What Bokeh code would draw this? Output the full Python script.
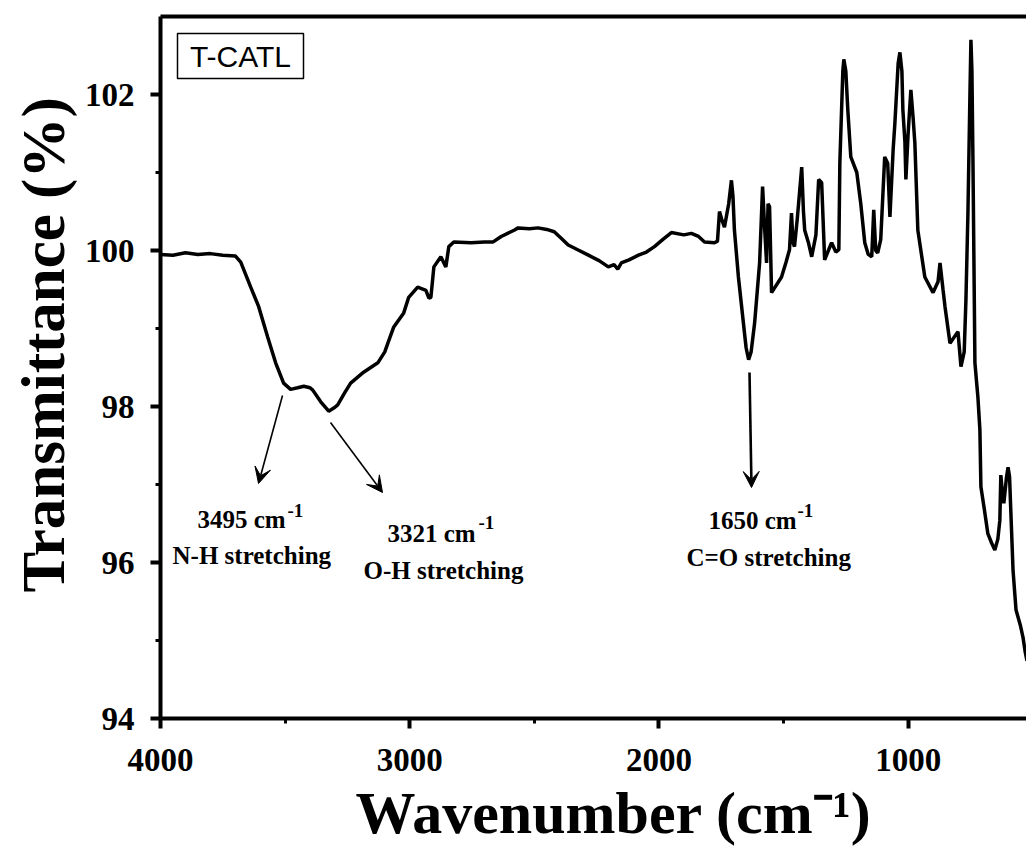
import math
from bokeh.plotting import figure
from bokeh.models import (Range1d, FixedTicker, LinearAxis, Label, Arrow, VeeHead,
                          BoxAnnotation, Title)
from bokeh.embed import file_html
from bokeh.resources import INLINE

# ---------------- data ----------------
wavenumber = [
    4000, 3950, 3900, 3850, 3800, 3750, 3700, 3678, 3638, 3606, 3570, 3538, 3506,
    3478, 3450, 3425, 3400, 3389, 3357, 3325, 3300, 3289, 3260, 3237, 3185, 3128,
    3100, 3088, 3064, 3024, 3004, 2968, 2935, 2923, 2915, 2903, 2875, 2855, 2843,
    2823, 2754, 2700, 2665, 2633, 2581, 2565, 2520, 2485, 2450, 2420, 2390, 2364,
    2320, 2283, 2240, 2203, 2180, 2165, 2151, 2120, 2082, 2050, 2018, 1985, 1950,
    1900, 1870, 1841, 1817, 1777, 1765, 1757, 1748, 1737, 1720, 1709, 1703, 1697,
    1681, 1661, 1650, 1640, 1630, 1616, 1596, 1584, 1576, 1568, 1562, 1556, 1548,
    1530, 1508, 1490, 1476, 1468, 1462, 1456, 1445, 1427, 1420, 1415, 1400, 1387,
    1370, 1359, 1347, 1335, 1320, 1307, 1290, 1278, 1274, 1262, 1258, 1250, 1242,
    1230, 1206, 1190, 1174, 1160, 1146, 1138, 1130, 1122, 1110, 1094, 1082, 1073,
    1060, 1053, 1040, 1033, 1025, 1021, 1013, 1009, 1000, 989, 980, 973, 961, 933,
    900, 880, 872, 860, 852, 832, 800, 788, 775, 768, 760, 752, 748, 744, 740, 732,
    720, 712, 708, 695, 680, 665, 652, 640, 632, 628, 622, 616, 605, 599, 593, 587,
    579, 567, 550, 539, 530, 523,
]
transmittance = [
    99.95, 99.94, 99.97, 99.95, 99.96, 99.94, 99.93, 99.85, 99.53, 99.28, 98.89,
    98.56, 98.30, 98.22, 98.24, 98.26, 98.24, 98.21, 98.06, 97.94, 97.99, 98.02,
    98.18, 98.30, 98.44, 98.56, 98.70, 98.81, 99.02, 99.20, 99.40, 99.53, 99.49,
    99.39, 99.40, 99.79, 99.92, 99.79, 100.05, 100.11, 100.10, 100.11, 100.11,
    100.18, 100.26, 100.29, 100.28, 100.29, 100.27, 100.24, 100.15, 100.07, 100.00,
    99.94, 99.87, 99.79, 99.82, 99.76, 99.84, 99.88, 99.94, 99.98, 100.05, 100.14,
    100.23, 100.20, 100.22, 100.18, 100.11, 100.10, 100.12, 100.50, 100.40, 100.30,
    100.60, 100.90, 100.70, 100.26, 99.66, 99.07, 98.75, 98.60, 98.70, 99.07, 99.84,
    100.82, 100.30, 99.84, 100.60, 100.56, 99.46, 99.55, 99.66, 99.85, 100.01,
    100.48, 100.10, 100.05, 100.40, 101.07, 100.50, 100.26, 100.10, 99.92, 100.20,
    100.91, 100.87, 99.88, 100.00, 100.10, 99.98, 100.01, 101.12, 102.30, 102.45,
    102.30, 101.80, 101.20, 101.00, 100.60, 100.10, 99.95, 99.92, 100.52, 100.00,
    99.97, 100.14, 101.20, 101.12, 100.43, 101.30, 101.64, 102.40, 102.54, 102.30,
    101.80, 101.40, 100.91, 101.50, 102.06, 101.70, 101.38, 100.26, 99.66, 99.46,
    99.60, 99.84, 99.50, 99.28, 98.81, 98.96, 98.51, 98.70, 99.37, 100.48, 102.00,
    102.70, 102.30, 101.20, 98.56, 98.12, 97.70, 96.97, 96.70, 96.37, 96.25, 96.16,
    96.30, 96.54, 97.12, 96.90, 96.76, 97.10, 97.22, 97.10, 96.58, 95.90, 95.39,
    95.20, 95.04, 94.85, 94.74,
]

x_ticks = [4000, 3000, 2000, 1000]
x_minor_ticks = [3500, 2500, 1500, 500]
y_ticks = [94, 96, 98, 100, 102]
y_minor_ticks = [95, 97, 99, 101]

sample_name = "T-CATL"
y_title = "Transmittance (%)"
x_title = "Wavenumber (cm\u207b\u00b9)"
peaks = [
    {"wn": "3495", "mode": "N-H stretching"},
    {"wn": "3321", "mode": "O-H stretching"},
    {"wn": "1650", "mode": "C=O stretching"},
]

# ---------------- layout ----------------
W, H = 1026, 852
L, R, T, B = 160, 0, 16, 134
X0, X1 = 4000, 525
Y0, Y1 = 94, 103
FW, FH = W - L - R, H - T - B


def dx(px):
    return X0 + (px - L) * (X1 - X0) / FW


def dy(py):
    return Y1 - (py - T) * (Y1 - Y0) / FH


SERIF = "Liberation Serif"

p = figure(width=W, height=H, x_range=Range1d(X0, X1), y_range=Range1d(Y0, Y1),
           output_backend="svg", toolbar_location=None,
           min_border_left=L, min_border_right=R, min_border_top=T,
           min_border_bottom=B)
p.grid.visible = False
p.outline_line_color = None
p.background_fill_color = "white"
p.border_fill_color = "white"

p.line(wavenumber, transmittance, line_color="black", line_width=3.5)

for ax in (p.xaxis[0], p.yaxis[0]):
    ax.axis_line_width = 4
    ax.axis_line_color = "black"
    ax.major_tick_line_width = 4
    ax.minor_tick_line_width = 3
    ax.major_tick_out = 10
    ax.major_tick_in = 0
    ax.minor_tick_out = 5
    ax.minor_tick_in = 0
    ax.major_label_text_font = SERIF
    ax.major_label_text_font_style = "bold"
    ax.major_label_text_font_size = "33px"
    ax.major_label_text_color = "black"

p.xaxis[0].major_label_standoff = 20
p.yaxis[0].major_label_standoff = 16
p.xaxis[0].ticker = FixedTicker(ticks=x_ticks, minor_ticks=x_minor_ticks)
p.yaxis[0].ticker = FixedTicker(ticks=y_ticks, minor_ticks=y_minor_ticks)

top = LinearAxis(ticker=FixedTicker(ticks=[]), axis_line_width=4,
                 axis_line_color="black", major_tick_out=0, major_tick_in=0,
                 minor_tick_out=0, minor_tick_in=0,
                 major_label_text_font_size="0px")
p.add_layout(top, "above")

# ---------------- axis titles ----------------
p.add_layout(Title(text=y_title, align="left", offset=126, standoff=9,
                   text_font=SERIF, text_font_style="bold",
                   text_font_size="61px", text_color="black"), "left")
p.add_layout(Title(text=x_title, align="left", offset=195, standoff=8,
                   text_font=SERIF, text_font_style="bold",
                   text_font_size="60px", text_color="black"), "below")


def lab(px, py, text, size, align="left"):
    p.add_layout(Label(x=dx(px), y=dy(py), text=text, text_align=align,
                       text_baseline="alphabetic", text_font=SERIF,
                       text_font_style="bold", text_font_size=size,
                       text_color="black"))


# ---------------- sample box ----------------
p.add_layout(BoxAnnotation(left=dx(177), right=dx(303), top=dy(33), bottom=dy(78),
                           fill_color=None, fill_alpha=0, line_color="black",
                           line_alpha=1.0, line_width=1.5))
p.add_layout(Label(x=dx(240), y=dy(56), text=sample_name, text_align="center",
                   text_baseline="middle", text_font="Liberation Sans",
                   text_font_size="30px", text_color="black"))

# ---------------- peak annotations ----------------
pos = [
    (197, 519, 287, 510, 172, 555),
    (387, 533, 478, 522, 363, 570),
    (708, 520, 797, 510, 686, 557),
]
for pk, (cx, cy, sx, sy, mx, my) in zip(peaks, pos):
    lab(cx, cy, pk["wn"] + " cm", "25px")
    lab(sx, sy, "-1", "19px")
    lab(mx, my, pk["mode"], "25px")

arrows = [
    ((282, 395), (258, 483), 1.6),
    ((330, 422), (382, 492), 1.6),
    ((749, 372), (751, 487), 2.6),
]
for (a, b, lw) in arrows:
    p.add_layout(Arrow(x_start=dx(a[0]), y_start=dy(a[1]), x_end=dx(b[0]),
                       y_end=dy(b[1]), line_width=lw, line_color="black",
                       end=VeeHead(size=16, fill_color="black", line_color="black",
                                   line_width=1)))

open("out.html", "w").write(file_html(p, INLINE))
